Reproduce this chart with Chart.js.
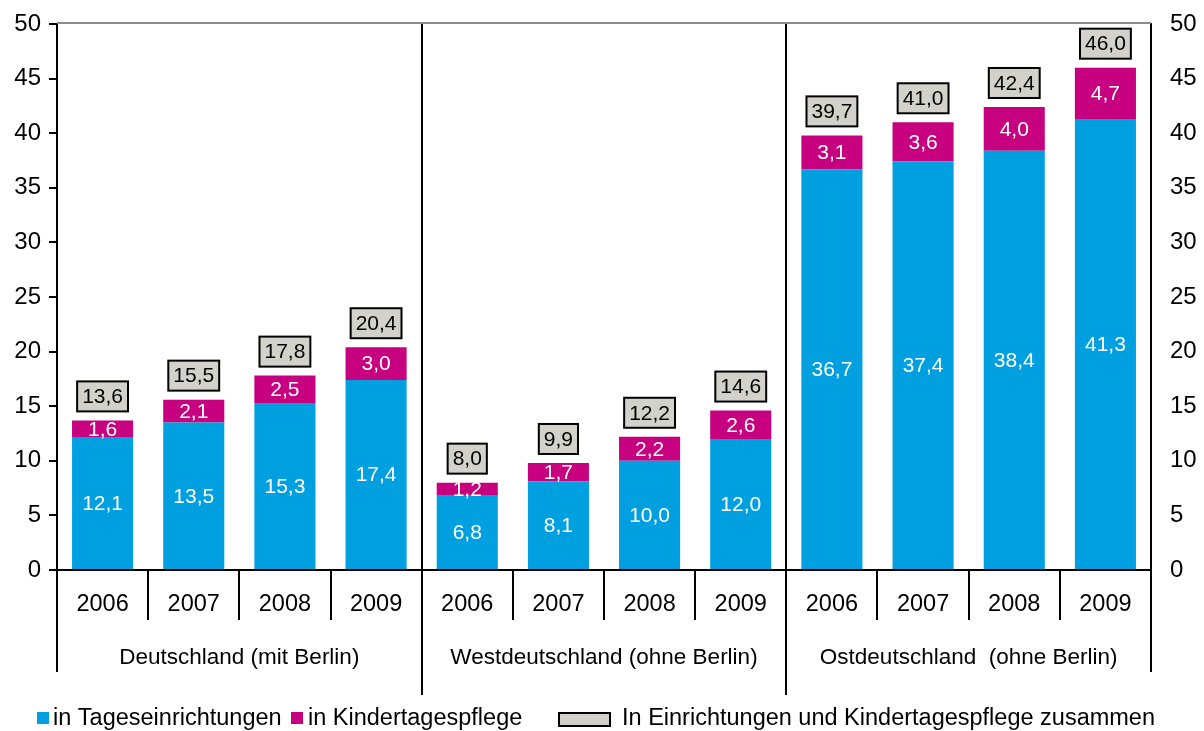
<!DOCTYPE html>
<html>
<head>
<meta charset="utf-8">
<script src="https://cdn.jsdelivr.net/npm/chart.js@4.4.0/dist/chart.umd.min.js"></script>
<style>
  html, body { margin: 0; padding: 0; background: #fff; }
  #wrap { width: 1204px; height: 731px; }
</style>
</head>
<body>
<div id="wrap"><canvas id="chart" width="1204" height="731"></canvas></div>
<script>
const years = ['2006', '2007', '2008', '2009', '2006', '2007', '2008', '2009', '2006', '2007', '2008', '2009'];
const groups = ['Deutschland (mit Berlin)', 'Westdeutschland (ohne Berlin)', 'Ostdeutschland  (ohne Berlin)'];
const tageseinrichtungen = [12.1, 13.5, 15.3, 17.4, 6.8, 8.1, 10.0, 12.0, 36.7, 37.4, 38.4, 41.3];
const kindertagespflege = [1.6, 2.1, 2.5, 3.0, 1.2, 1.7, 2.2, 2.6, 3.1, 3.6, 4.0, 4.7];
const zusammen = [13.6, 15.5, 17.8, 20.4, 8.0, 9.9, 12.2, 14.6, 39.7, 41.0, 42.4, 46.0];
const yTicks = [0, 5, 10, 15, 20, 25, 30, 35, 40, 45, 50];

const FONT = "'Liberation Sans', Arial, sans-serif";
const BLUE = '#009fe0';
const MAGENTA = '#c6007e';
const BOXGRAY = '#d2d2ca';

const fmt = v => v.toFixed(1).replace('.', ',');

// draws everything Chart.js has no option for: multi-level x axis, separators, labels, legend
const decorPlugin = {
  id: 'decor',
  afterDraw(chart) {
    const ctx = chart.ctx;
    const area = chart.chartArea;
    const x = chart.scales.x;
    const half = (x.getPixelForValue(1) - x.getPixelForValue(0)) / 2;
    ctx.save();

    // grey top line at 50
    ctx.strokeStyle = '#8c8c8c';
    ctx.lineWidth = 2;
    ctx.beginPath();
    ctx.moveTo(area.left, area.top - 1);
    ctx.lineTo(area.right, area.top - 1);
    ctx.stroke();

    // x axis line
    ctx.strokeStyle = '#000';
    ctx.lineWidth = 2;
    ctx.beginPath();
    ctx.moveTo(area.left - 8, area.bottom);
    ctx.lineTo(area.right, area.bottom);
    ctx.stroke();

    // category ticks and group separators
    for (let i = 0; i <= years.length; i++) {
      const px = Math.round(i < years.length ? x.getPixelForValue(i) - half : x.getPixelForValue(years.length - 1) + half);
      ctx.beginPath();
      if (i === 4 || i === 8) {
        ctx.moveTo(px, area.top);
        ctx.lineTo(px, 695);
      } else if (i === 0 || i === years.length) {
        ctx.moveTo(px, area.bottom);
        ctx.lineTo(px, 672);
      } else {
        ctx.moveTo(px, area.bottom);
        ctx.lineTo(px, 620);
      }
      ctx.stroke();
    }

    // year labels
    ctx.fillStyle = '#000';
    ctx.font = '23.5px ' + FONT;
    ctx.textAlign = 'center';
    ctx.textBaseline = 'middle';
    years.forEach((y, i) => ctx.fillText(y, x.getPixelForValue(i), 605));

    // group labels
    ctx.font = '22.5px ' + FONT;
    groups.forEach((g, k) => {
      const cx = (x.getPixelForValue(k * 4) + x.getPixelForValue(k * 4 + 3)) / 2;
      ctx.fillText(g, cx, 658);
    });

    // values inside segments
    ctx.font = '21px ' + FONT;
    ctx.fillStyle = '#fff';
    [0, 1].forEach(d => {
      chart.getDatasetMeta(d).data.forEach((bar, i) => {
        const v = chart.data.datasets[d].data[i];
        ctx.fillText(fmt(v), bar.x, (bar.y + bar.base) / 2 + 1);
      });
    });

    // totals in grey boxes
    chart.getDatasetMeta(1).data.forEach((bar, i) => {
      const txt = fmt(zusammen[i]);
      const w = ctx.measureText(txt).width + 10;
      const h = 30;
      const cy = bar.y - 24;
      ctx.fillStyle = BOXGRAY;
      ctx.strokeStyle = '#000';
      ctx.lineWidth = 2;
      ctx.fillRect(bar.x - w / 2, cy - h / 2, w, h);
      ctx.strokeRect(bar.x - w / 2, cy - h / 2, w, h);
      ctx.fillStyle = '#000';
      ctx.fillText(txt, bar.x, cy + 1);
    });

    // legend
    ctx.font = '23.5px ' + FONT;
    ctx.textAlign = 'left';
    ctx.fillStyle = BLUE;
    ctx.fillRect(37, 712, 12, 12);
    ctx.fillStyle = '#000';
    ctx.fillText('in Tageseinrichtungen', 53, 719);
    ctx.fillStyle = MAGENTA;
    ctx.fillRect(291, 712, 12, 12);
    ctx.fillStyle = '#000';
    ctx.fillText('in Kindertagespflege', 308, 719);
    ctx.fillStyle = BOXGRAY;
    ctx.fillRect(559, 713, 51, 13);
    ctx.lineWidth = 2;
    ctx.strokeRect(559, 713, 51, 13);
    ctx.fillStyle = '#000';
    ctx.fillText('In Einrichtungen und Kindertagespflege zusammen', 622, 719);

    ctx.restore();
  }
};

new Chart(document.getElementById('chart'), {
  type: 'bar',
  data: {
    labels: years.map((y, i) => y + '_' + i),
    datasets: [{
      label: 'in Tageseinrichtungen',
      data: tageseinrichtungen,
      backgroundColor: BLUE,
      barPercentage: 0.67,
      categoryPercentage: 1,
      stack: 's'
    }, {
      label: 'in Kindertagespflege',
      data: kindertagespflege,
      backgroundColor: MAGENTA,
      barPercentage: 0.67,
      categoryPercentage: 1,
      stack: 's'
    }]
  },
  options: {
    responsive: false,
    animation: false,
    layout: {
      padding: { top: 24, bottom: 161, left: 0, right: 0 }
    },
    scales: {
      x: {
        display: false,
        stacked: true
      },
      y: {
        position: 'left',
        stacked: true,
        min: 0,
        max: 50,
        afterFit: scale => { scale.width = 57; },
        afterBuildTicks: scale => { scale.ticks = yTicks.map(v => ({ value: v })); },
        grid: {
          drawOnChartArea: false,
          drawTicks: true,
          tickLength: 8,
          tickColor: '#000',
          lineWidth: 2
        },
        border: { color: '#000', width: 2 },
        ticks: {
          color: '#000',
          padding: 8,
          font: { family: FONT, size: 24 }
        }
      },
      y2: {
        position: 'right',
        min: 0,
        max: 50,
        afterFit: scale => { scale.width = 53; },
        afterBuildTicks: scale => { scale.ticks = yTicks.map(v => ({ value: v })); },
        // invisible tick marks keep the labels away from the axis
        grid: {
          display: true,
          drawOnChartArea: false,
          drawTicks: true,
          tickLength: 12,
          tickColor: 'rgba(0,0,0,0)'
        },
        border: { color: '#000', width: 2 },
        ticks: {
          color: '#000',
          padding: 7,
          font: { family: FONT, size: 24 }
        }
      }
    },
    plugins: {
      legend: { display: false },
      tooltip: { enabled: false }
    }
  },
  plugins: [decorPlugin]
});
</script>
</body>
</html>
